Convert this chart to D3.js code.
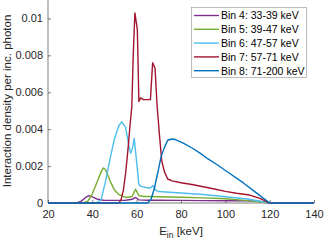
<!DOCTYPE html>
<html>
<head>
<meta charset="utf-8">
<script src="https://cdn.jsdelivr.net/npm/d3@7"></script>
<style>
  body { margin: 0; background: #fff; }
  svg { font-family: "Liberation Sans", Arial, sans-serif; }
</style>
</head>
<body>
<script>
// energy grids (keV) and interaction densities per bin
const energyBin4 = [20, 33, 35, 37, 38.5, 40, 42, 45, 50, 55, 58, 59.5, 61, 65, 70, 80, 90, 100, 110, 116, 120, 140];
const densityBin4 = [0, 0, 0.0001, 0.0003, 0.0004, 0.00033, 0.00022, 0.00015, 0.00014, 0.00015, 0.0002, 0.0003, 0.00017, 0.00015, 0.00015, 0.00014, 0.00013, 0.00012, 0.00012, 0.00008, 0, 0];

const energyBin5 = [20, 36, 38, 40, 42, 44, 45, 46, 48, 50, 52, 55, 58, 59.5, 61, 63, 66, 70, 80, 90, 100, 110, 120, 140];
const densityBin5 = [0, 0, 0.0001, 0.0005, 0.0011, 0.0017, 0.0019, 0.0018, 0.0012, 0.0007, 0.00045, 0.0003, 0.00035, 0.00075, 0.0004, 0.00035, 0.00035, 0.00034, 0.00031, 0.00028, 0.00023, 0.00013, 0, 0];

const energyBin6 = [20, 42, 44, 46, 48, 50, 52, 53.3, 55, 56.5, 57.3, 58.2, 58.9, 60, 61, 62, 64, 66, 67.3, 68.5, 70, 75, 80, 90, 100, 110, 120, 140];
const densityBin6 = [0, 0, 0.0002, 0.0012, 0.0024, 0.0035, 0.0042, 0.0044, 0.0041, 0.0031, 0.0027, 0.003, 0.0035, 0.0022, 0.001, 0.0009, 0.00085, 0.0008, 0.00095, 0.0007, 0.00062, 0.00058, 0.00054, 0.00046, 0.00034, 0.00022, 0, 0];

const energyBin7 = [20, 52, 53, 54, 55, 56, 57, 57.8, 58.5, 59.2, 60.3, 61, 61.8, 63, 65, 66.2, 67.2, 68.3, 69.2, 70.2, 71.3, 72.5, 74, 76, 80, 85, 90, 95, 100, 105, 111, 115.6, 120, 140];
const densityBin7 = [0, 0, 0.0002, 0.0007, 0.0016, 0.0028, 0.0042, 0.0052, 0.0082, 0.0103, 0.0094, 0.0055, 0.0057, 0.0056, 0.0056, 0.0056, 0.0076, 0.0073, 0.0053, 0.0038, 0.0023, 0.0017, 0.0013, 0.0012, 0.0011, 0.001, 0.00088, 0.00076, 0.00063, 0.00053, 0.00043, 0.00025, 0, 0];

const energyBin8 = [20, 65, 66.5, 68, 69.8, 71, 72.5, 74, 75.8, 77.5, 79, 81, 85, 88.6, 92, 96, 102, 108, 114, 120, 140];
const densityBin8 = [0, 0, 0.0002, 0.0008, 0.0018, 0.0025, 0.003, 0.0034, 0.00347, 0.00344, 0.00335, 0.00325, 0.00298, 0.0027, 0.0024, 0.0021, 0.0016, 0.0011, 0.00055, 0, 0];

const seriesNames = ["Bin 4: 33-39 keV", "Bin 5: 39-47 keV", "Bin 6: 47-57 keV", "Bin 7: 57-71 keV", "Bin 8: 71-200 keV"];
const seriesColors = ["#7E2F8E", "#77AC30", "#4DBEEE", "#A2142F", "#0072BD"];
const xTicks = [20, 40, 60, 80, 100, 120, 140];
const yTicks = [0, 0.002, 0.004, 0.006, 0.008, 0.01];

const series = [
  [energyBin4, densityBin4],
  [energyBin5, densityBin5],
  [energyBin6, densityBin6],
  [energyBin7, densityBin7],
  [energyBin8, densityBin8]
];

const W = 324, H = 241;
const svg = d3.select("body").append("svg").attr("width", W).attr("height", H);

const x = d3.scaleLinear().domain([20, 140]).range([48, 314]);
const y = d3.scaleLinear().domain([0, 0.011]).range([203, 0]);

const textCol = "#262626";

// axes (ticks pointing inward like matlab)
const xAxis = svg.append("g").attr("transform", "translate(0,203)")
  .call(d3.axisBottom(x).tickValues(xTicks).tickSize(-3).tickPadding(7).tickFormat(d3.format("d")));
const yAxis = svg.append("g").attr("transform", "translate(48,0)")
  .call(d3.axisLeft(y).tickValues(yTicks).tickSize(-3).tickPadding(5).tickFormat(d => d === 0 ? "0" : d3.format("")(+d.toFixed(3))));

[xAxis, yAxis].forEach(g => {
  g.selectAll("path").attr("stroke", textCol).attr("stroke-width", 0.6);
  g.selectAll("line").attr("stroke", textCol).attr("stroke-width", 0.6);
  g.selectAll("text").attr("fill", textCol).style("font-size", "11px").style("font-family", "Liberation Sans, Arial, sans-serif");
});
xAxis.select("path").attr("d", "M48,0H314");
yAxis.select("path").attr("d", "M0,203V0");

// lines
const line = d3.line().x(d => x(d[0])).y(d => y(d[1]));
series.forEach((s, i) => {
  const pts = s[0].map((e, k) => [e, s[1][k]]);
  svg.append("path")
    .datum(pts)
    .attr("fill", "none")
    .attr("stroke", seriesColors[i])
    .attr("stroke-width", 1.4)
    .attr("stroke-linejoin", "round")
    .attr("d", line);
});

// axis labels
const xl = svg.append("text")
  .attr("x", 181).attr("y", 235)
  .attr("text-anchor", "middle")
  .attr("fill", textCol)
  .style("font-size", "11.5px");
xl.append("tspan").text("E");
xl.append("tspan").attr("dy", 3).style("font-size", "8.5px").text("in");
xl.append("tspan").attr("dy", -3).text(" [keV]");

svg.append("text")
  .attr("transform", "translate(11,101) rotate(-90)")
  .attr("text-anchor", "middle")
  .attr("fill", textCol)
  .style("font-size", "11.5px")
  .text("Interaction density per inc. photon");

// legend
const lg = svg.append("g");
lg.append("rect")
  .attr("x", 191.5).attr("y", 7.5).attr("width", 115).attr("height", 70)
  .attr("fill", "#fff").attr("stroke", "#a0a0a0").attr("stroke-width", 0.7);
seriesNames.forEach((name, i) => {
  const ly = 15.5 + i * 13.8;
  lg.append("line")
    .attr("x1", 194).attr("x2", 219).attr("y1", ly).attr("y2", ly)
    .attr("stroke", seriesColors[i]).attr("stroke-width", 1.4);
  lg.append("text")
    .attr("x", 221).attr("y", ly + 3.8)
    .attr("fill", "#000")
    .style("font-size", "10.5px")
    .text(name);
});
</script>
</body>
</html>
